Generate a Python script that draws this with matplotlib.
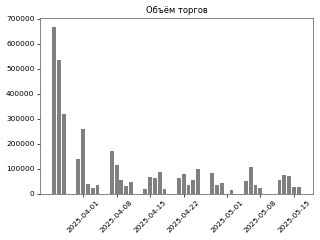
import matplotlib.pyplot as plt
import matplotlib.dates as mdates
import numpy as np

dates = np.array([
    '2025-03-26', '2025-03-27', '2025-03-28',
    '2025-03-31', '2025-04-01', '2025-04-02', '2025-04-03', '2025-04-04',
    '2025-04-07', '2025-04-08', '2025-04-09', '2025-04-10', '2025-04-11',
    '2025-04-14', '2025-04-15', '2025-04-16', '2025-04-17', '2025-04-18',
    '2025-04-21', '2025-04-22', '2025-04-23', '2025-04-24', '2025-04-25',
    '2025-04-28', '2025-04-29', '2025-04-30', '2025-05-02',
    '2025-05-05', '2025-05-06', '2025-05-07', '2025-05-08',
    '2025-05-12', '2025-05-13', '2025-05-14', '2025-05-15', '2025-05-16',
], dtype='datetime64[D]')
volumes = [
    668000, 536000, 319000,
    138000, 259000, 41000, 24000, 36000,
    170000, 115000, 54000, 33000, 47000,
    19000, 69000, 65000, 86000, 21000,
    64000, 80000, 36000, 56000, 98000,
    85000, 37000, 43000, 16000,
    51000, 109000, 35000, 23000,
    56000, 76000, 70000, 27000, 27000,
]

plt.rcParams['font.size'] = 5.3
plt.rcParams['axes.linewidth'] = 0.5
plt.rcParams['xtick.major.width'] = 0.5
plt.rcParams['ytick.major.width'] = 0.5
plt.rcParams['xtick.major.size'] = 2
plt.rcParams['ytick.major.size'] = 2
plt.rcParams['xtick.major.pad'] = 2
plt.rcParams['ytick.major.pad'] = 2

fig, ax = plt.subplots(figsize=(3.2, 2.4), dpi=100)
ax.bar(dates.astype('datetime64[ms]').astype(object), volumes, color='gray')
ax.set_title('Объём торгов', fontsize=6, pad=4)
ax.xaxis.set_major_locator(mdates.DayLocator(bymonthday=[1, 8, 15, 22]))
ax.xaxis.set_major_formatter(mdates.DateFormatter('%Y-%m-%d'))
plt.xticks(rotation=45)
for s in ax.spines.values():
    s.set_color('#555555')
plt.subplots_adjust(left=0.125, right=0.978, top=0.924, bottom=0.192)
plt.savefig('out.png')
